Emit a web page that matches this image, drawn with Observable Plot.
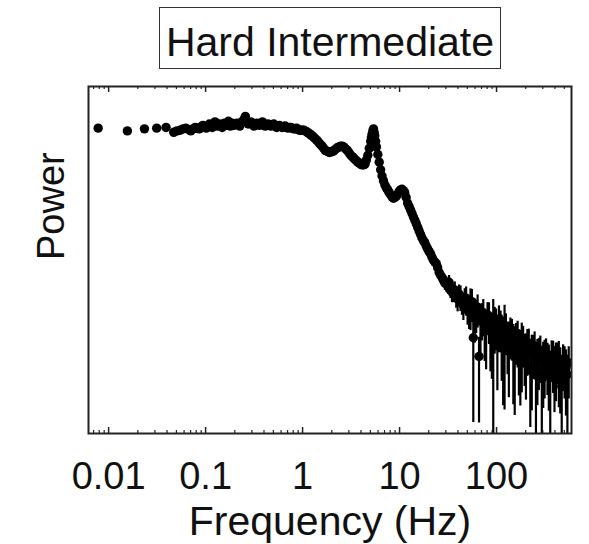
<!DOCTYPE html>
<html><head><meta charset="utf-8">
<script src="https://cdn.jsdelivr.net/npm/d3@7"></script>
<script src="https://cdn.jsdelivr.net/npm/@observablehq/plot@0.6"></script>
<style>
body{margin:0;background:#fff;width:589px;height:544px;position:relative;overflow:hidden;font-family:"Liberation Sans",Arial,Helvetica,sans-serif;}
#title{position:absolute;left:159px;top:7px;width:342px;height:62px;box-sizing:border-box;border:1.5px solid #333;text-align:center;font-size:41px;line-height:50px;padding-top:9px;color:#111;}
#chart{position:absolute;left:0;top:78px;}
</style></head><body>
<div id="title">Hard Intermediate</div>
<div id="chart"></div>
<script>
const frequency = [
0.0078, 0.0156, 0.0234, 0.0313, 0.0391, 0.0469, 0.0547, 0.0625, 0.0703, 0.0781,
0.0859, 0.0938, 0.1016, 0.1094, 0.1172, 0.125, 0.1328, 0.1406, 0.1484, 0.1563,
0.1641, 0.1719, 0.1797, 0.1875, 0.1953,
0.21, 0.225, 0.24, 0.257, 0.275, 0.294, 0.315, 0.337, 0.36, 0.385,
0.412, 0.441, 0.472, 0.505, 0.54, 0.578, 0.618, 0.661, 0.708, 0.757,
0.81, 0.867, 0.928, 0.993, 1.06, 1.14, 1.22, 1.30, 1.39, 1.49,
1.59, 1.71, 1.83, 1.95, 2.09, 2.24, 2.39, 2.56, 2.74, 2.93,
3.14, 3.36, 3.59, 3.84, 4.11, 4.40, 4.71, 5.04, 5.2, 5.39,
5.55, 5.77, 6.17, 6.60, 7.07, 7.56, 8.09, 8.66, 9.26, 9.91,
10.6, 11.3, 12.1, 13.0, 13.9, 14.9, 15.9, 17.0, 18.2, 19.5,
20.9, 22.3, 23.9, 25.6, 27.4, 29.3, 31.3, 33.5, 35.9, 38.4,
41.1, 44.0, 47.0, 50.3, 53.9, 57.6, 61.7, 66.0, 70.6, 75.5,
80.8, 86.5, 92.5, 99.0, 106, 113, 121, 130, 139, 149,
159, 170, 182, 195, 208, 223, 239, 255, 273, 293,
313, 335, 358, 383, 410, 439, 470, 503, 538
];
// log10 of power (arbitrary units; the y axis carries no numbers)
const logPower = [
0.00, -0.04, -0.01, 0.00, 0.01, -0.06, -0.03, 0.00, -0.04, 0.01,
-0.01, 0.04, 0.00, 0.06, 0.01, 0.09, 0.03, 0.06, 0.01, 0.07,
0.04, 0.10, 0.03, 0.07, 0.04,
0.07, 0.03, 0.10, 0.17, 0.06, 0.09, 0.03, 0.07, 0.04, 0.09,
0.03, 0.06, 0.03, 0.06, 0.01, 0.04, 0.01, 0.03, 0.00, 0.01,
-0.01, 0.00, -0.03, -0.03, -0.04, -0.07, -0.10, -0.13, -0.17, -0.22,
-0.26, -0.32, -0.34, -0.34, -0.33, -0.29, -0.27, -0.26, -0.29, -0.33,
-0.39, -0.43, -0.47, -0.50, -0.53, -0.52, -0.39, -0.19, -0.09, -0.01,
-0.11, -0.27, -0.49, -0.69, -0.82, -0.89, -0.96, -1.01, -0.98, -0.91,
-0.88, -0.93, -1.08, -1.18, -1.28, -1.38, -1.48, -1.58, -1.65, -1.74,
-1.81, -1.90, -1.95, -2.08, -2.15, -2.23, -2.26, -2.33, -2.36, -2.44,
-2.39, -2.51, -2.46, -2.58, -2.52, -3.02, -2.66, -3.29, -2.72, -2.84,
-2.69, -2.91, -2.77, -2.81, -2.78, -2.95, -2.84, -3.03, -2.94, -3.10,
-3.02, -3.16, -3.07, -3.20, -3.12, -3.49, -3.19, -3.56, -3.26, -3.61,
-3.30, -3.33, -3.59, -3.30, -3.34, -3.33, -3.72, -3.38, -3.55
];
// relative (linear) 1-sigma error of each power estimate
const relError = [
0.05, 0.05, 0.05, 0.05, 0.05, 0.05, 0.05, 0.05, 0.05, 0.05,
0.05, 0.05, 0.05, 0.05, 0.05, 0.05, 0.05, 0.05, 0.05, 0.05,
0.05, 0.05, 0.05, 0.05, 0.05,
0.06, 0.06, 0.06, 0.06, 0.06, 0.06, 0.06, 0.06, 0.06, 0.06,
0.06, 0.06, 0.06, 0.06, 0.06, 0.06, 0.06, 0.06, 0.06, 0.06,
0.06, 0.06, 0.06, 0.06, 0.06, 0.06, 0.06, 0.06, 0.06, 0.06,
0.06, 0.06, 0.06, 0.06, 0.06, 0.06, 0.06, 0.06, 0.06, 0.06,
0.06, 0.06, 0.06, 0.06, 0.06, 0.06, 0.06, 0.06, 0.06, 0.06,
0.06, 0.06, 0.06, 0.06, 0.06, 0.06, 0.06, 0.06, 0.06, 0.06,
0.08, 0.08, 0.08, 0.08, 0.08, 0.08, 0.08, 0.08, 0.08, 0.08,
0.15, 0.18, 0.15, 0.20, 0.20, 0.22, 0.25, 0.25, 0.30, 0.30,
0.35, 0.35, 0.40, 0.45, 0.60, 0.94, 0.50, 0.89, 0.55, 0.70,
0.50, 0.75, 1.00, 0.60, 0.65, 0.80, 0.94, 0.70, 0.60, 0.87,
0.60, 0.80, 0.82, 0.70, 0.65, 0.85, 0.60, 1.00, 0.70, 1.00,
0.75, 0.70, 1.00, 0.70, 0.75, 0.80, 1.00, 0.70, 0.90
];
// further bins read between the ones above, below ~30 Hz
const frequencyMid = [
0.0508, 0.0586, 0.0664, 0.0742, 0.082, 0.0898, 0.0977,
0.203, 0.217, 0.232, 0.248, 0.266, 0.284, 0.304, 0.326, 0.348, 0.372,
0.398, 0.426, 0.456, 0.488, 0.522, 0.559, 0.598, 0.639, 0.684, 0.732,
0.783, 0.838, 0.897, 0.96, 1.03, 1.10, 1.18, 1.26, 1.34, 1.44,
1.54, 1.65, 1.77, 1.89, 2.02, 2.16, 2.31, 2.47, 2.65, 2.83,
3.03, 3.25, 3.47, 3.71, 3.97, 4.25, 4.55, 4.87, 5.12, 5.30,
5.47, 5.66, 5.97, 6.38, 6.83, 7.31, 7.82, 8.37, 8.96, 9.58,
10.25, 10.95, 11.7, 12.55, 13.45, 14.4, 15.4, 16.45, 17.6, 18.85,
20.2, 21.6, 23.1, 24.7, 26.5, 28.3, 30.3
];
const logPowerMid = [
-0.04, -0.01, -0.02, -0.01, 0.00, 0.02, 0.02,
0.06, 0.05, 0.08, 0.12, 0.09, 0.08, 0.05, 0.05, 0.06, 0.07,
0.06, 0.04, 0.05, 0.04, 0.03, 0.03, 0.02, 0.02, 0.01, 0.01,
0.00, -0.01, -0.02, -0.03, -0.03, -0.05, -0.08, -0.11, -0.15, -0.19,
-0.24, -0.29, -0.33, -0.35, -0.34, -0.31, -0.28, -0.26, -0.27, -0.31,
-0.36, -0.41, -0.45, -0.49, -0.52, -0.53, -0.46, -0.29, -0.14, -0.04,
-0.06, -0.19, -0.38, -0.60, -0.76, -0.86, -0.93, -0.99, -1.00, -0.95,
-0.89, -0.90, -1.00, -1.13, -1.23, -1.33, -1.43, -1.53, -1.62, -1.70,
-1.78, -1.86, -1.93, -2.01, -2.12, -2.19, -2.24
];
const relErrorMid = [
0.05, 0.05, 0.05, 0.05, 0.05, 0.05, 0.05,
0.06, 0.06, 0.06, 0.06, 0.06, 0.06, 0.06, 0.06, 0.06, 0.06,
0.06, 0.06, 0.06, 0.06, 0.06, 0.06, 0.06, 0.06, 0.06, 0.06,
0.06, 0.06, 0.06, 0.06, 0.06, 0.06, 0.06, 0.06, 0.06, 0.06,
0.06, 0.06, 0.06, 0.06, 0.06, 0.06, 0.06, 0.06, 0.06, 0.06,
0.06, 0.06, 0.06, 0.06, 0.06, 0.06, 0.06, 0.06, 0.06, 0.06,
0.06, 0.06, 0.06, 0.06, 0.06, 0.06, 0.06, 0.06, 0.06, 0.06,
0.08, 0.08, 0.08, 0.08, 0.08, 0.08, 0.08, 0.08, 0.08, 0.08,
0.15, 0.15, 0.18, 0.20, 0.20, 0.22, 0.25
];
// the denser, noisier bins above ~30 Hz
const frequencyHigh = [
32.4, 34.7, 37.1, 39.7, 42.5, 45.5, 48.6, 52.1, 55.7, 59.6,
63.8, 68.3, 73.0, 78.1, 83.6, 89.5, 95.7, 102, 110, 117,
125, 134, 144, 154, 165, 176, 188, 201, 215, 231,
247, 264, 283, 303, 324, 346, 370, 396, 424, 454,
486, 520, 555
];
const logPowerHigh = [
-2.22, -2.36, -2.33, -2.46, -2.42, -2.55, -2.45, -2.60, -2.50, -2.70,
-2.58, -2.78, -2.66, -2.88, -2.72, -2.92, -2.80, -2.96, -2.84, -3.00,
-2.88, -3.06, -2.96, -3.14, -3.00, -3.18, -3.06, -3.22, -3.10, -3.25,
-3.14, -3.30, -3.20, -3.34, -3.24, -3.38, -3.27, -3.40, -3.30, -3.42,
-3.34, -3.45, -3.38
];
const relErrorHigh = [
0.25, 0.30, 0.30, 0.35, 0.40, 0.40, 0.45, 0.50, 0.50, 0.60,
0.50, 0.70, 0.55, 0.75, 0.60, 0.80, 0.65, 0.85, 0.60, 0.90,
0.60, 0.85, 0.60, 0.90, 0.65, 0.85, 0.60, 0.80, 0.60, 0.85,
0.60, 0.80, 0.60, 0.80, 0.60, 0.80, 0.60, 0.80, 0.60, 0.80,
0.65, 0.80, 0.70
];
const majorTicks = [0.01, 0.1, 1, 10, 100];
const minorTicks = [0.007, 0.008, 0.009,
  0.02, 0.03, 0.04, 0.05, 0.06, 0.07, 0.08, 0.09,
  0.2, 0.3, 0.4, 0.5, 0.6, 0.7, 0.8, 0.9,
  2, 3, 4, 5, 6, 7, 8, 9,
  20, 30, 40, 50, 60, 70, 80, 90,
  200, 300, 400, 500];
const xDomain = [0.0062, 593];
const yDomain = [-4.4, 0.6];

const toRow = (f, p, e) => ({
  f, p,
  lo: Math.max(yDomain[0], p + Math.log10(1 - e)),
  hi: p + Math.log10(1 + e)
});
const rows = frequency.map((f, i) => toRow(f, logPower[i], relError[i]))
  .concat(frequencyMid.map((f, i) => toRow(f, logPowerMid[i], relErrorMid[i])))
  .concat(frequencyHigh.map((f, i) => toRow(f, logPowerHigh[i], relErrorHigh[i])));

const W = 589, H = 466, mT = 8, mB = 111, mL = 88, mR = 18;
const frameH = H - mT - mB;
const font = '"Liberation Sans", Arial, Helvetica, sans-serif';

const chart = Plot.plot({
  width: W, height: H,
  marginTop: mT, marginBottom: mB, marginLeft: mL, marginRight: mR,
  style: {fontFamily: font, background: "white", color: "#111"},
  x: {type: "log", domain: xDomain},
  y: {domain: yDomain, axis: null},
  marks: [
    Plot.ruleX(rows, {x: "f", y1: "lo", y2: "hi", stroke: "#000", strokeWidth: 2.2, clip: true}),
    Plot.dot(rows, {x: "f", y: "p", r: 4.7, fill: "#000", stroke: "none", clip: true}),
    Plot.ruleX(majorTicks, {x: d => d, insetTop: frameH - 6, stroke: "#222", strokeWidth: 1.5}),
    Plot.ruleX(majorTicks, {x: d => d, insetBottom: frameH - 6, stroke: "#222", strokeWidth: 1.5}),
    Plot.ruleX(minorTicks, {x: d => d, insetTop: frameH - 3, stroke: "#222", strokeWidth: 1.2}),
    Plot.ruleX(minorTicks, {x: d => d, insetBottom: frameH - 3, stroke: "#222", strokeWidth: 1.2}),
    Plot.axisX({ticks: majorTicks, tickSize: 0, tickPadding: 29, fontSize: 38, tickFormat: d => String(d), label: null}),
    Plot.frame({stroke: "#222", strokeWidth: 2}),
    Plot.text(["Frequency (Hz)"], {frameAnchor: "bottom", dy: 101, lineAnchor: "bottom", fontSize: 41, fill: "#111"}),
    Plot.text(["Power"], {frameAnchor: "left", rotate: -90, dx: -25, lineAnchor: "bottom", fontSize: 38, fill: "#111"})
  ]
});
document.getElementById("chart").appendChild(chart);
</script>
</body></html>
